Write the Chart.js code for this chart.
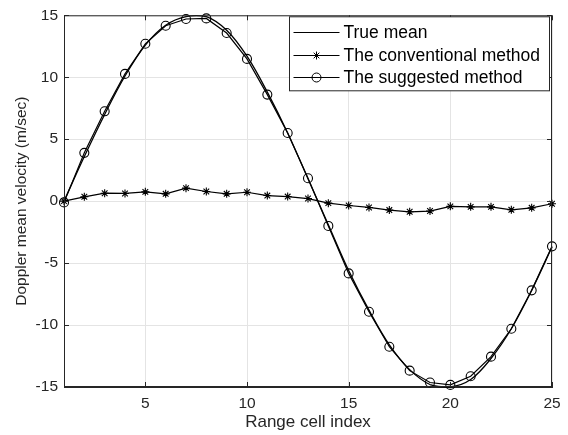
<!DOCTYPE html>
<html>
<head>
<meta charset="utf-8">
<script src="https://cdn.jsdelivr.net/npm/chart.js@4.4.0/dist/chart.umd.min.js"></script>
<style>
  html, body { margin: 0; padding: 0; background: #fff; }
</style>
</head>
<body>
<canvas id="dopplerChart" width="568" height="435"></canvas>
<script>
const rangeCells = [1, 2, 3, 4, 5, 6, 7, 8, 9, 10, 11, 12, 13, 14, 15, 16, 17, 18, 19, 20, 21, 22, 23, 24, 25];
const trueMean = [0, 3.6, 7.0, 10.1, 12.6, 14.2, 14.9, 14.9, 13.8, 11.7, 8.8, 5.5, 1.8, -1.9, -5.6, -8.8, -11.6, -13.6, -14.8, -15.0, -14.4, -12.7, -10.3, -7.2, -3.7];
const conventional = [0, 0.35, 0.64, 0.62, 0.75, 0.59, 1.05, 0.78, 0.59, 0.72, 0.45, 0.37, 0.21, -0.16, -0.35, -0.51, -0.72, -0.86, -0.8, -0.42, -0.46, -0.46, -0.7, -0.54, -0.21];
const suggested = [-0.1, 3.9, 7.25, 10.27, 12.7, 14.16, 14.7, 14.75, 13.57, 11.48, 8.6, 5.5, 1.85, -2.0, -5.83, -8.93, -11.75, -13.68, -14.64, -14.83, -14.13, -12.55, -10.3, -7.2, -3.65];
const xTickValues = [5, 10, 15, 20, 25];
const yTickValues = [-15, -10, -5, 0, 5, 10, 15];

const axisColor = "#262626";
const fontFamily = '"Liberation Sans", Arial, sans-serif';

const toPoints = (ys) => rangeCells.map((x, i) => ({ x: x, y: ys[i] }));

// box around the axes plus inward tick marks, like the original figure
const axesBox = {
  id: "axesBox",
  afterDatasetsDraw(chart) {
    const { ctx, chartArea, scales } = chart;
    ctx.save();
    ctx.strokeStyle = axisColor;
    ctx.lineWidth = 1;
    ctx.strokeRect(chartArea.left + 0.5, chartArea.top + 0.5, chartArea.right - chartArea.left - 1, chartArea.bottom - chartArea.top - 1);
    ctx.beginPath();
    xTickValues.forEach((v) => {
      const px = Math.round(scales.x.getPixelForValue(v)) + 0.5;
      ctx.moveTo(px, chartArea.bottom);
      ctx.lineTo(px, chartArea.bottom - 5);
      ctx.moveTo(px, chartArea.top);
      ctx.lineTo(px, chartArea.top + 5);
    });
    yTickValues.forEach((v) => {
      const py = Math.round(scales.y.getPixelForValue(v)) + 0.5;
      ctx.moveTo(chartArea.left, py);
      ctx.lineTo(chartArea.left + 5, py);
      ctx.moveTo(chartArea.right, py);
      ctx.lineTo(chartArea.right - 5, py);
    });
    ctx.stroke();
    ctx.restore();
  },
};

const drawMarker = (ctx, style, x, y) => {
  ctx.beginPath();
  if (style === "circle") {
    ctx.arc(x, y, 4.5, 0, Math.PI * 2);
  } else if (style === "star") {
    const r = 4;
    const d = r * Math.SQRT1_2;
    ctx.moveTo(x - r, y); ctx.lineTo(x + r, y);
    ctx.moveTo(x, y - r); ctx.lineTo(x, y + r);
    ctx.moveTo(x - d, y - d); ctx.lineTo(x + d, y + d);
    ctx.moveTo(x - d, y + d); ctx.lineTo(x + d, y - d);
  }
  ctx.stroke();
};

// legend in a box in the top-right corner
const boxLegend = {
  id: "boxLegend",
  afterDraw(chart) {
    const { ctx, chartArea } = chart;
    const w = 260;
    const h = 74;
    const left = Math.round(chartArea.right - 3 - w) + 0.5;
    const top = chartArea.top + 1.5;
    ctx.save();
    ctx.fillStyle = "#fff";
    ctx.fillRect(left, top, w, h);
    ctx.strokeStyle = axisColor;
    ctx.lineWidth = 1;
    ctx.strokeRect(left, top, w, h);
    chart.data.datasets.forEach((ds, i) => {
      const y = Math.round(top + 15 + i * 22.8) + 0.5;
      ctx.strokeStyle = "#000";
      ctx.lineWidth = 1;
      ctx.beginPath();
      ctx.moveTo(left + 4, y);
      ctx.lineTo(left + 50, y);
      ctx.stroke();
      if (ds.pointRadius > 0) drawMarker(ctx, ds.pointStyle, left + 27, y);
      ctx.fillStyle = "#000";
      ctx.font = "17.5px " + fontFamily;
      ctx.textBaseline = "middle";
      ctx.textAlign = "left";
      ctx.fillText(ds.label, left + 54, y + 1);
    });
    ctx.restore();
  },
};

const ctx = document.getElementById("dopplerChart").getContext("2d");
new Chart(ctx, {
  type: "line",
  data: {
    datasets: [
      {
        label: "True mean",
        data: toPoints(trueMean),
        borderColor: "#000",
        borderWidth: 1.3,
        pointRadius: 0,
        tension: 0.35,
      },
      {
        label: "The conventional method",
        data: toPoints(conventional),
        borderColor: "#000",
        borderWidth: 1.2,
        pointStyle: "star",
        pointRadius: 4,
        pointBorderColor: "#000",
        pointBorderWidth: 1.1,
        tension: 0,
      },
      {
        label: "The suggested method",
        data: toPoints(suggested),
        borderColor: "#000",
        borderWidth: 1.2,
        pointStyle: "circle",
        pointRadius: 4.5,
        pointBackgroundColor: "rgba(0,0,0,0)",
        pointBorderColor: "#000",
        pointBorderWidth: 1.1,
        tension: 0,
      },
    ],
  },
  options: {
    responsive: false,
    animation: false,
    devicePixelRatio: 1,
    clip: false,
    layout: { padding: { left: 0, right: 16, top: 14, bottom: 0 } },
    plugins: {
      legend: { display: false },
      tooltip: { enabled: false },
    },
    scales: {
      x: {
        type: "linear",
        min: 1,
        max: 25,
        afterBuildTicks(scale) {
          scale.ticks = xTickValues.map((v) => ({ value: v }));
        },
        afterFit(scale) {
          scale.height = 48;
        },
        grid: { color: "#e4e4e4", drawTicks: false },
        border: { color: axisColor },
        ticks: {
          padding: 7,
          color: axisColor,
          font: { family: fontFamily, size: 15.5 },
          maxRotation: 0,
        },
        title: {
          display: true,
          text: "Range cell index",
          color: axisColor,
          font: { family: fontFamily, size: 17 },
          padding: { top: 0, bottom: 2 },
        },
      },
      y: {
        min: -15,
        max: 15,
        afterBuildTicks(scale) {
          scale.ticks = yTickValues.map((v) => ({ value: v }));
        },
        afterFit(scale) {
          scale.width = 64;
        },
        grid: { color: "#e4e4e4", drawTicks: false },
        border: { color: axisColor },
        ticks: {
          padding: 6,
          color: axisColor,
          font: { family: fontFamily, size: 15.5 },
        },
        title: {
          display: true,
          text: "Doppler mean velocity (m/sec)",
          color: axisColor,
          font: { family: fontFamily, size: 15.5 },
          padding: { top: 12, bottom: 0 },
        },
      },
    },
  },
  plugins: [axesBox, boxLegend],
});
</script>
</body>
</html>
